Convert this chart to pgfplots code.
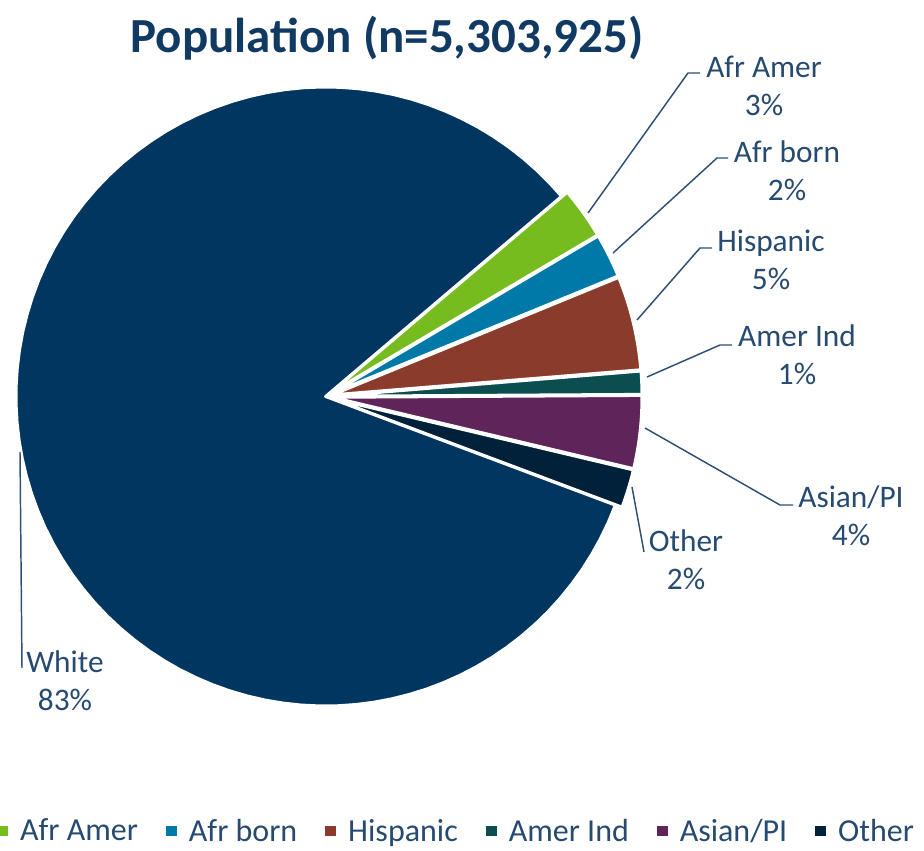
\documentclass[border=0pt]{standalone}
\usepackage{pgfplots}
\pgfplotsset{compat=1.18}
\usepackage{fontspec}
\setmainfont{Carlito}

\definecolor{cWhite}{RGB}{0,54,96}
\definecolor{cAfrAmer}{RGB}{119,188,31}
\definecolor{cAfrBorn}{RGB}{0,121,168}
\definecolor{cHisp}{RGB}{138,59,43}
\definecolor{cAmerInd}{RGB}{12,78,79}
\definecolor{cAsian}{RGB}{95,36,89}
\definecolor{cOther}{RGB}{1,32,57}
\definecolor{titlecol}{RGB}{17,58,99}
\definecolor{labcol}{RGB}{38,74,112}
\definecolor{leadcol}{RGB}{46,80,119}

% pie centre and radius (in px of the 924x850 picture, y upwards)
\def\pCx{325.5}
\def\pCy{453.5}
\def\pR{309.5}
\def\pStart{40.3}

% #1 share in percent, #2 explosion (px), #3 colour, #4 extra options
\newcommand\pieslice[4]{%
  \pgfmathsetmacro\pEnd{\pStart-3.6*#1}%
  \pgfmathsetmacro\pMid{(\pStart+\pEnd)/2}%
  \pgfmathsetmacro\pOx{\pCx+#2*cos(\pMid)}%
  \pgfmathsetmacro\pOy{\pCy+#2*sin(\pMid)}%
  \edef\pDo{\noexpand\addplot[fill=#3, draw=white, line width=2.2pt,
      line join=round, domain=\pEnd:\pStart, samples=90, #4]
      ({\pOx+\pR*cos(x)},{\pOy+\pR*sin(x)}) -- (axis cs:\pOx,\pOy) -- cycle;}%
  \pDo
  \global\let\pStart\pEnd
}

\begin{document}
\begin{tikzpicture}[
  lab/.style={font=\fontsize{23.5}{28.5}\selectfont, text=labcol, align=center, inner sep=0pt},
  leader/.style={draw=leadcol, line width=1.1pt},
]
\path[use as bounding box, clip] (0,0) rectangle (693pt,637.5pt);
\begin{axis}[
  at={(0,0)}, anchor=south west,
  x=0.75pt, y=0.75pt,
  xmin=0, xmax=924, ymin=0, ymax=850,
  hide axis, clip=false,
  legend columns=-1,
  legend image code/.code={\fill[#1,draw=none] (0pt,-4.1pt) rectangle (8.2pt,4.1pt);},
  legend style={at={(axis cs:-3,19)}, anchor=west, draw=none, fill=none,
    font=\fontsize{24}{28}\selectfont, text=labcol,
    inner sep=0pt,
    /tikz/every odd column/.append style={column sep=7pt},
    /tikz/every even column/.append style={column sep=19pt}},
]
\pieslice{2.7}{7}{cAfrAmer}{}
\addlegendentry{Afr Amer}
\pieslice{2.3}{7}{cAfrBorn}{}
\addlegendentry{Afr born}
\pieslice{4.9}{7}{cHisp}{}
\addlegendentry{Hispanic}
\pieslice{1.2}{7}{cAmerInd}{}
\addlegendentry{Amer Ind}
\pieslice{3.8}{7}{cAsian}{}
\addlegendentry{Asian/PI}
\pieslice{2.0}{7}{cOther}{}
\addlegendentry{Other}
\pieslice{83.1}{0}{cWhite}{forget plot}

% title
\node[font=\fontsize{36.75}{40}\selectfont\bfseries, text=titlecol] at (axis cs:387,812) {Population (n=5,303,925)};

% leader lines
\draw[leader] (axis cs:588,637) -- (axis cs:688,777) -- (axis cs:700,777);
\draw[leader] (axis cs:613,597) -- (axis cs:717,692) -- (axis cs:728,692);
\draw[leader] (axis cs:637,530) -- (axis cs:700,602) -- (axis cs:712,602);
\draw[leader] (axis cs:647,473) -- (axis cs:720,505) -- (axis cs:732,505);
\draw[leader] (axis cs:645,422) -- (axis cs:780,345) -- (axis cs:793,345);
\draw[leader] (axis cs:632,363) -- (axis cs:644,298);
\draw[leader] (axis cs:20,398) -- (axis cs:22,182);

% data labels
\node[lab] at (axis cs:764,764) {Afr Amer\\3\%};
\node[lab] at (axis cs:787,679) {Afr born\\2\%};
\node[lab] at (axis cs:771,590) {Hispanic\\5\%};
\node[lab] at (axis cs:797,495) {Amer Ind\\1\%};
\node[lab] at (axis cs:851,334) {Asian/PI\\4\%};
\node[lab] at (axis cs:686,290) {Other\\2\%};
\node[lab] at (axis cs:65,169) {White\\83\%};
\end{axis}
\end{tikzpicture}
\end{document}
